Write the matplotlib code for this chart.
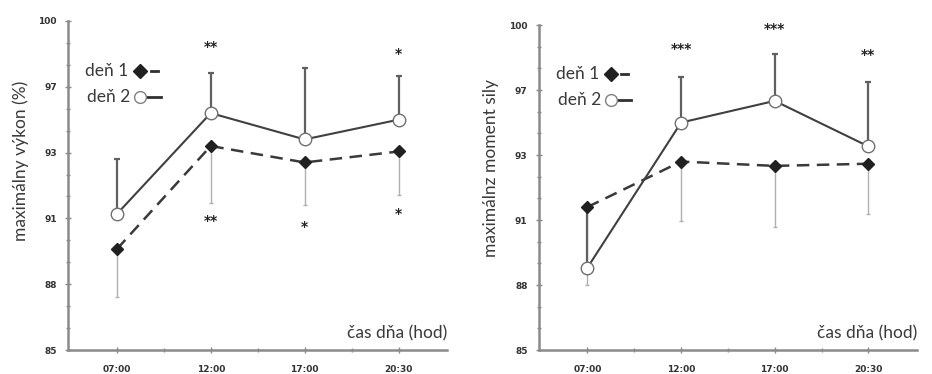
import matplotlib
matplotlib.use("Agg")
import matplotlib.pyplot as plt
from matplotlib.ticker import FixedLocator, MultipleLocator

categories = ["07:00", "12:00", "17:00", "20:30"]
ytick_vals = [85, 88, 91, 94, 97, 100]
ytick_labels = ["85", "88", "91", "93", "97", "100"]

# left panel: maximálny výkon
L_den1 = [89.6, 94.3, 93.55, 94.05]
L_den1_lo = [2.2, 2.6, 1.95, 2.0]
L_den2 = [91.2, 95.8, 94.6, 95.5]
L_den2_hi = [2.5, 1.85, 3.25, 2.0]
L_top_stars = ["", "**", "", "*"]
L_top_star_y = [None, 98.8, None, 98.5]
L_bot_stars = ["", "**", "*", "*"]
L_bot_star_y = [None, 90.9, 90.6, 91.2]

# right panel: maximálnz moment sily
R_den1 = [91.6, 93.7, 93.5, 93.6]
R_den1_lo = [3.6, 2.75, 2.8, 2.3]
R_den2 = [88.8, 95.5, 96.5, 94.4]
R_den2_hi = [2.8, 2.1, 2.15, 2.95]
R_top_stars = ["", "***", "***", "**"]
R_top_star_y = [None, 98.9, 99.8, 98.6]

plt.rcParams['font.family'] = ['Lato', 'DejaVu Sans']

fig = plt.figure(figsize=(9.32, 3.74), dpi=100)
axL = fig.add_axes([0.073, 0.064, 0.407, 0.88])
axR = fig.add_axes([0.578, 0.064, 0.406, 0.869])

axis_col = "#8a8a8a"
text_col = "#3a3a3a"

def draw(ax, d1, d1lo, d2, d2hi, ylabel, ylab_y, top_s, top_y, bot_s=None, bot_y=None):
    x = list(range(len(categories)))
    ax.errorbar(x, d1, yerr=[d1lo, [0]*4], fmt='none', ecolor="#b0b0b0",
                elinewidth=1.0, capsize=1.5, capthick=1.0, zorder=2)
    ax.errorbar(x, d2, yerr=[[0]*4, d2hi], fmt='none', ecolor="#606060",
                elinewidth=1.6, capsize=2, capthick=1.6, zorder=2)
    ax.plot(x, d1, linestyle=(0, (5, 3)), color="#3a3a3a", lw=1.8,
            marker='D', markersize=6, markerfacecolor="#202020",
            markeredgecolor="#202020", zorder=3)
    ax.plot(x, d2, linestyle='-', color="#404040", lw=1.5,
            marker='o', markersize=9, markerfacecolor="white",
            markeredgecolor="#707070", markeredgewidth=1.0, zorder=4)
    for xi, s, yy in zip(x, top_s, top_y):
        if s:
            ax.text(xi, yy, s, ha='center', va='center', fontsize=10,
                    color="#222222", fontweight='bold', family='DejaVu Sans')
    if bot_s:
        for xi, s, yy in zip(x, bot_s, bot_y):
            if s:
                ax.text(xi, yy, s, ha='center', va='center', fontsize=10,
                        color="#222222", fontweight='bold', family='DejaVu Sans')
    ax.set_xlim(-0.52, 3.52)
    ax.set_ylim(85, 100)
    ax.set_xticks(x)
    ax.set_xticklabels(categories)
    ax.xaxis.set_minor_locator(FixedLocator([0.5, 1.5, 2.5]))
    ax.yaxis.set_major_locator(FixedLocator(ytick_vals))
    ax.set_yticklabels(ytick_labels)
    ax.yaxis.set_minor_locator(MultipleLocator(1))
    for side in ['top', 'right']:
        ax.spines[side].set_visible(False)
    for side in ['left', 'bottom']:
        ax.spines[side].set_color(axis_col)
        ax.spines[side].set_linewidth(1.8)
    ax.tick_params(axis='both', which='both', direction='inout', color=axis_col,
                   width=1.0, labelsize=6.5, labelcolor="#333333")
    ax.tick_params(axis='x', which='major', pad=9)
    ax.tick_params(axis='y', which='major', pad=6)
    ax.tick_params(axis='both', which='major', length=4)
    ax.tick_params(axis='both', which='minor', length=3)
    for lab in ax.get_xticklabels() + ax.get_yticklabels():
        lab.set_fontweight('bold')
        lab.set_family(['Liberation Sans Narrow', 'DejaVu Sans'])
    ax.set_ylabel(ylabel, fontsize=12.5, color=text_col, labelpad=5)
    ax.yaxis.set_label_coords(-0.104, ylab_y)
    ax.text(1.0, 0.05, "čas dňa (hod)", transform=ax.transAxes, ha='right',
            va='center', fontsize=12.5, color=text_col)
    # legend-like labels
    ax.text(0.045, 0.848, "deň 1", transform=ax.transAxes, ha='left', va='center',
            fontsize=12.5, color=text_col)
    ax.text(0.05, 0.768, "deň 2", transform=ax.transAxes, ha='left', va='center',
            fontsize=12.5, color=text_col)
    ax.plot([0.19], [0.848], transform=ax.transAxes, marker='D', markersize=7.5,
            color="#202020", clip_on=False)
    ax.plot([0.218, 0.236], [0.848, 0.848], transform=ax.transAxes, color="#303030",
            lw=2.0, clip_on=False)
    ax.plot([0.205, 0.245], [0.768, 0.768], transform=ax.transAxes, color="#303030",
            lw=2.0, clip_on=False)
    ax.plot([0.19], [0.768], transform=ax.transAxes, marker='o', markersize=8.5,
            markerfacecolor='white', markeredgecolor="#808080", clip_on=False)

draw(axL, L_den1, L_den1_lo, L_den2, L_den2_hi, "maximálny výkon (%)", 0.574,
     L_top_stars, L_top_star_y, L_bot_stars, L_bot_star_y)
draw(axR, R_den1, R_den1_lo, R_den2, R_den2_hi, "maximálnz moment sily", 0.56,
     R_top_stars, R_top_star_y)

fig.savefig("out.png", dpi=100)
